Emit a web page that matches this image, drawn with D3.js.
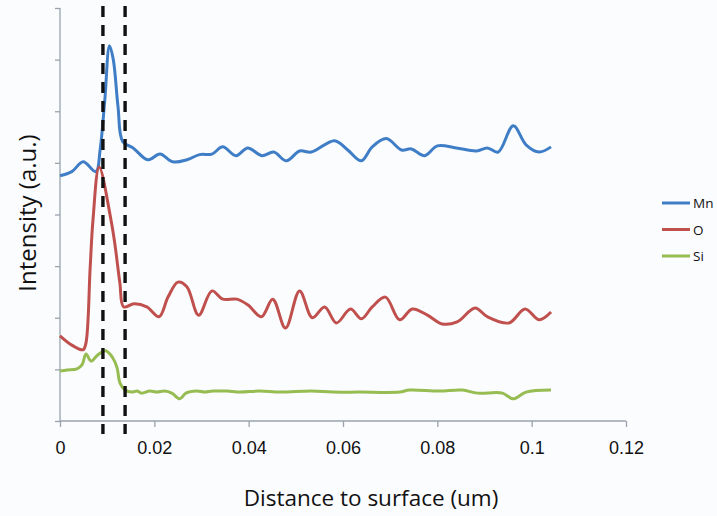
<!DOCTYPE html>
<html>
<head>
<meta charset="utf-8">
<script src="https://cdn.jsdelivr.net/npm/d3@7"></script>
<style>
  html, body { margin: 0; padding: 0; background: #fbfcfe; }
  svg { display: block; font-family: "Open Sans", sans-serif; }
  .axis path, .axis line { stroke: #9aa3ad; stroke-width: 1.3; }
  .axis text { fill: #111; font-size: 18px; }
</style>
</head>
<body>
<div id="chart"></div>
<script>
// values: [distance (um), intensity (a.u.)]
const mnData = [
  [0, 4.75], [0.0025, 4.83], [0.0049, 5.02], [0.0076, 4.83], [0.0085, 5.25],
  [0.0095, 6.22], [0.0105, 7.27], [0.0113, 7.0], [0.0123, 6.09], [0.0133, 5.41],
  [0.0155, 5.29], [0.0186, 5.06], [0.0212, 5.17], [0.0239, 5.02], [0.0269, 5.06],
  [0.0296, 5.16], [0.0322, 5.17], [0.0345, 5.31], [0.0373, 5.14], [0.0398, 5.29],
  [0.0428, 5.14], [0.0453, 5.21], [0.0480, 5.04], [0.0508, 5.23], [0.0533, 5.21],
  [0.0582, 5.43], [0.0610, 5.25], [0.0639, 5.04], [0.0662, 5.31], [0.0692, 5.47],
  [0.0724, 5.25], [0.0745, 5.27], [0.0773, 5.14], [0.0800, 5.33], [0.0840, 5.29],
  [0.0883, 5.23], [0.0906, 5.29], [0.0929, 5.21], [0.0961, 5.72], [0.0988, 5.35],
  [0.1016, 5.21], [0.1041, 5.31]
];
const oData = [
  [0, 1.65], [0.0025, 1.47], [0.0049, 1.38], [0.0055, 1.51], [0.0064, 2.98],
  [0.0070, 3.90], [0.0083, 4.92], [0.0108, 3.90], [0.0116, 3.45], [0.0127, 2.67],
  [0.0135, 2.21], [0.0157, 2.27], [0.0184, 2.21], [0.0210, 2.02], [0.0229, 2.40],
  [0.0250, 2.69], [0.0269, 2.60], [0.0294, 2.05], [0.0322, 2.52], [0.0345, 2.36],
  [0.0375, 2.36], [0.0398, 2.25], [0.0427, 2.02], [0.0451, 2.36], [0.0478, 1.80],
  [0.0508, 2.52], [0.0535, 2.00], [0.0561, 2.21], [0.0586, 1.90], [0.0616, 2.17],
  [0.0639, 1.98], [0.0662, 2.21], [0.0690, 2.40], [0.0720, 1.96], [0.0747, 2.17],
  [0.0779, 2.05], [0.0810, 1.88], [0.0842, 1.92], [0.0880, 2.19], [0.0906, 2.02],
  [0.0952, 1.90], [0.0986, 2.17], [0.1016, 1.96], [0.1041, 2.11]
];
const siData = [
  [0, 0.97], [0.0015, 0.99], [0.0036, 1.01], [0.0047, 1.09], [0.0055, 1.30],
  [0.0066, 1.16], [0.0080, 1.28], [0.0097, 1.36], [0.0112, 1.22], [0.0121, 1.03],
  [0.0127, 0.74], [0.0138, 0.60], [0.0152, 0.56], [0.0163, 0.58], [0.0173, 0.54],
  [0.0190, 0.58], [0.0205, 0.56], [0.0222, 0.58], [0.0237, 0.54], [0.0254, 0.43],
  [0.0267, 0.54], [0.0290, 0.58], [0.0307, 0.56], [0.0324, 0.58], [0.0354, 0.58],
  [0.0381, 0.56], [0.0423, 0.58], [0.0466, 0.56], [0.0533, 0.58], [0.0578, 0.56],
  [0.0635, 0.56], [0.0720, 0.56], [0.0741, 0.60], [0.0804, 0.58], [0.0853, 0.60],
  [0.0885, 0.54], [0.0938, 0.54], [0.0961, 0.43], [0.0988, 0.56], [0.1041, 0.60]
];
const seriesNames = ['Mn', 'O', 'Si'];
const seriesColors = ['#3f7ec6', '#c0504d', '#97bc52'];
const xTicks = [0, 0.02, 0.04, 0.06, 0.08, 0.1, 0.12];
const yTicks = [0, 1, 2, 3, 4, 5, 6, 7, 8];
const markerLines = [0.0091, 0.0138];   // dashed interface marks

const W = 717, H = 516;
const pad = {l: 60, r: 91, t: 8, b: 95};

const svg = d3.select('#chart').append('svg')
  .attr('width', W).attr('height', H);
svg.append('rect').attr('width', W).attr('height', H).attr('fill', '#fbfcfe');

const x = d3.scaleLinear().domain([0, 0.12]).range([pad.l, W - pad.r]);
const y = d3.scaleLinear().domain([0, 8]).range([H - pad.b, pad.t]);

svg.append('g')
  .attr('class', 'axis')
  .attr('transform', `translate(0, ${H - pad.b})`)
  .call(d3.axisBottom(x).tickValues(xTicks).tickSize(6).tickPadding(14)
    .tickFormat(d => d === 0 ? '0' : d3.format('~g')(d)))
  .call(g => g.select('.domain').attr('d', `M${x(0)},0H${x(0.12)}`));

svg.append('g')
  .attr('class', 'axis')
  .attr('transform', `translate(${pad.l}, 0)`)
  .call(d3.axisLeft(y).tickValues(yTicks).tickSize(5).tickFormat(''))
  .call(g => g.select('.domain').attr('d', `M0,${y(0)}V${y(8)}`));

const line = d3.line()
  .x(d => x(d[0]))
  .y(d => y(d[1]))
  .curve(d3.curveCatmullRom.alpha(0.5));

[mnData, oData, siData].forEach((data, i) => {
  svg.append('path')
    .datum(data)
    .attr('fill', 'none')
    .attr('stroke', seriesColors[i])
    .attr('stroke-width', 3)
    .attr('stroke-linejoin', 'round')
    .attr('d', line);
});

// dashed vertical marks
svg.selectAll('.marker')
  .data(markerLines)
  .enter().append('line')
  .attr('class', 'marker')
  .attr('x1', d => x(d)).attr('x2', d => x(d))
  .attr('y1', 6).attr('y2', H - pad.b + 13)
  .attr('stroke', '#111')
  .attr('stroke-width', 3.4)
  .attr('stroke-dasharray', '11,8');

// axis titles
svg.append('text')
  .attr('x', 371).attr('y', 506)
  .attr('text-anchor', 'middle')
  .attr('font-size', 22.5)
  .attr('fill', '#111')
  .text('Distance to surface (um)');
svg.append('text')
  .attr('transform', 'translate(36, 213) rotate(-90)')
  .attr('text-anchor', 'middle')
  .attr('font-size', 24)
  .attr('fill', '#111')
  .text('Intensity (a.u.)');

// legend (nudged left so "Mn" is not clipped)
const legend = svg.append('g').attr('transform', 'translate(662, 203)');
seriesNames.forEach((name, i) => {
  const g = legend.append('g').attr('transform', `translate(0, ${i * 26.5})`);
  g.append('line')
    .attr('x1', 0).attr('x2', 28)
    .attr('stroke', seriesColors[i]).attr('stroke-width', 3);
  g.append('text')
    .attr('x', 31).attr('y', 5)
    .attr('font-size', 13.5)
    .attr('fill', '#111')
    .text(name);
});
</script>
</body>
</html>
